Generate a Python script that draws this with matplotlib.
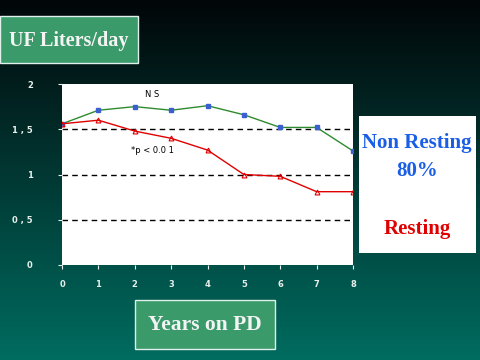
import numpy as np
import matplotlib
matplotlib.use("Agg")
import matplotlib.pyplot as plt
from matplotlib.patches import Rectangle

years = [0, 1, 2, 3, 4, 5, 6, 7, 8]
non_resting = [1.56, 1.71, 1.75, 1.71, 1.76, 1.66, 1.52, 1.52, 1.26]
resting = [1.56, 1.60, 1.48, 1.40, 1.27, 1.00, 0.98, 0.81, 0.81]
y_ticks = [0, 0.5, 1, 1.5, 2]
y_tick_labels = ["0", "0 , 5", "1", "1 , 5", "2"]
ref_lines = [0.5, 1.0, 1.5]

fig = plt.figure(figsize=(4.8, 3.6), dpi=100)

# background gradient
bg = fig.add_axes([0, 0, 1, 1], zorder=-10)
top = np.array([2, 6, 8]) / 255.0
bot = np.array([0, 108, 96]) / 255.0
t = np.linspace(0, 1, 256)[:, None]
grad = (top[None, :] * (1 - t) + bot[None, :] * t)[:, None, :]
bg.imshow(grad, aspect="auto", extent=[0, 1, 0, 1], origin="upper")
bg.set_xlim(0, 1); bg.set_ylim(0, 1)
bg.axis("off")

W, H = 480.0, 360.0
def fx(px): return px / W
def fy(py): return 1 - py / H

ax = fig.add_axes([fx(62), fy(265), 291 / W, 181 / H])
ax.set_facecolor("white")
for s in ax.spines.values():
    s.set_visible(False)
ax.set_xlim(0, 8)
ax.set_ylim(0, 2)
for r in ref_lines:
    ax.axhline(r, color="black", lw=1.0, ls=(0, (4, 3)), zorder=1)
ax.plot(years, non_resting, color="#2e8b2e", lw=1.0, marker="s", ms=3.5,
        mfc="#3a5fd0", mec="#3a5fd0", zorder=3)
ax.plot(years, resting, color="#e00000", lw=1.0, marker="^", ms=3.5,
        mfc="none", mec="#e00000", mew=0.8, zorder=3)
ax.text(2.47, 1.88, "N S", fontsize=6, ha="center", va="center", color="black")
ax.text(2.48, 1.27, "*p < 0.0 1", fontsize=6, ha="center", va="center", color="black")
ax.set_xticks(years)
ax.set_xticklabels([str(y) for y in years])
ax.set_yticks(y_ticks)
ax.set_yticklabels(y_tick_labels)
ax.tick_params(axis="both", colors="#e8f0ec", labelsize=6, length=3, width=0.8,
               direction="out")
ax.tick_params(axis="y", pad=18)
ax.tick_params(axis="x", pad=8)
for lab in ax.get_xticklabels() + ax.get_yticklabels():
    lab.set_fontweight("bold")

# title box
fig.patches.append(Rectangle((fx(0), fy(63)), 138 / W, 47 / H, transform=fig.transFigure,
                             facecolor="#3a9a6a", edgecolor="#e0f0ea", lw=1.0))
fig.text(fx(69), fy(41), "UF Liters/day", fontsize=14.5, family="Liberation Serif",
         fontweight="bold", color="#f4f4f4", ha="center", va="center")

# x label box
fig.patches.append(Rectangle((fx(135), fy(349)), 140 / W, 49 / H, transform=fig.transFigure,
                             facecolor="#3a9a6a", edgecolor="#e0f0ea", lw=1.0))
fig.text(fx(205), fy(325), "Years on PD", fontsize=15.5, family="Liberation Serif",
         fontweight="bold", color="#f4f4f4", ha="center", va="center")

# legend box
fig.patches.append(Rectangle((fx(359), fy(253)), 117 / W, 137 / H, transform=fig.transFigure,
                             facecolor="white", edgecolor="none"))
fig.text(fx(417), fy(143), "Non Resting", fontsize=15, family="Liberation Serif",
         fontweight="bold", color="#1a5ee6", ha="center", va="center")
fig.text(fx(417), fy(171), "80%", fontsize=15, family="Liberation Serif",
         fontweight="bold", color="#1a5ee6", ha="center", va="center")
fig.text(fx(417), fy(229), "Resting", fontsize=15, family="Liberation Serif",
         fontweight="bold", color="#e00000", ha="center", va="center")

fig.savefig("out.png", dpi=100)
